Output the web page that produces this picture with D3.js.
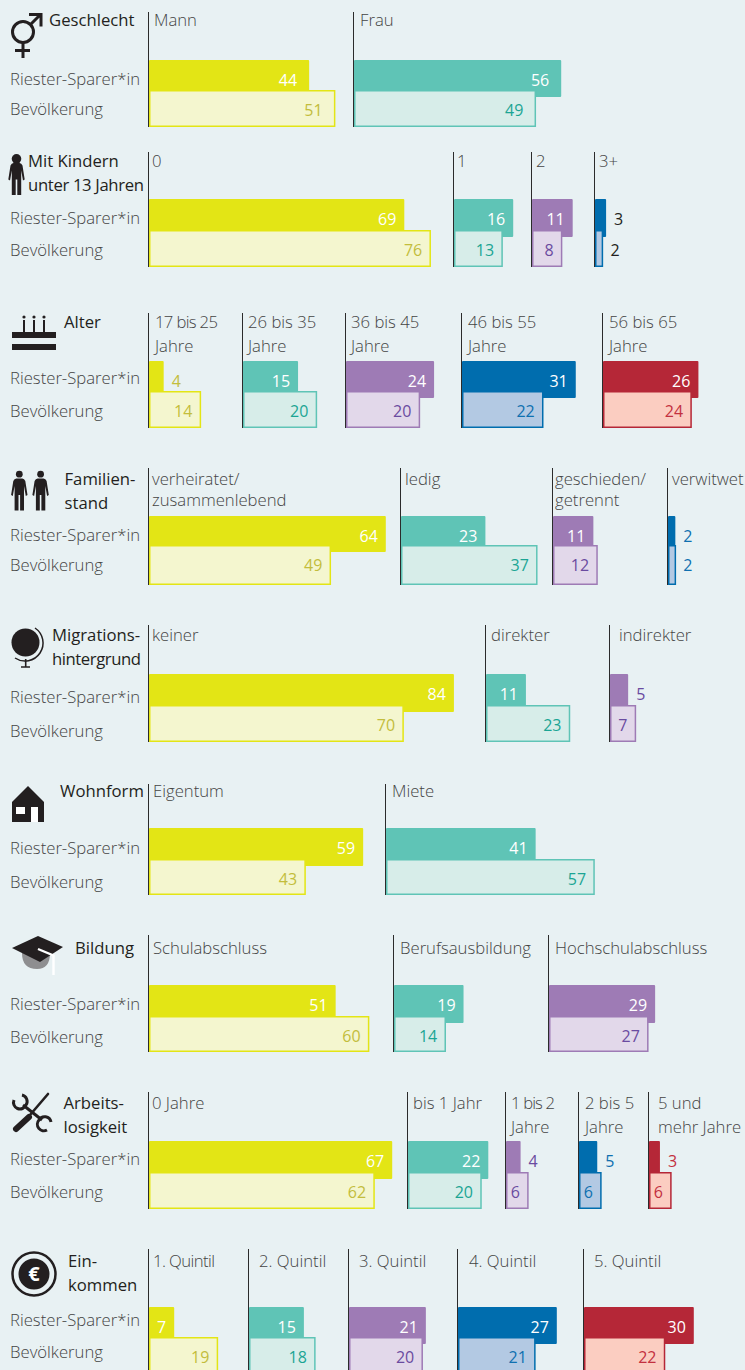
<!DOCTYPE html>
<html>
<head>
<meta charset="utf-8">
<script src="https://d3js.org/d3.v7.min.js"></script>
<style>
html,body{margin:0;padding:0;background:#e8f1f3;}
svg{display:block;}
text{font-family:"Open Sans",sans-serif;}
</style>
</head>
<body>
<svg id="chart"></svg>
<script>
// chart values, percent
var rowNames=['Riester-Sparer*in','Bevölkerung'];

var geschlechtCats=[['Mann'],['Frau']],
    geschlechtSparer=[44,56],
    geschlechtBev=[51,49];
var kinderCats=[['0'],['1'],['2'],['3+']],
    kinderSparer=[69,16,11,3],
    kinderBev=[76,13,8,2];
var alterCats=[['17 bis 25','Jahre'],['26 bis 35','Jahre'],['36 bis 45','Jahre'],['46 bis 55','Jahre'],['56 bis 65','Jahre']],
    alterSparer=[4,15,24,31,26],
    alterBev=[14,20,20,22,24];
var familieCats=[['verheiratet/','zusammenlebend'],['ledig'],['geschieden/','getrennt'],['verwitwet']],
    familieSparer=[64,23,11,2],
    familieBev=[49,37,12,2];
var migrationCats=[['keiner'],['direkter'],['indirekter']],
    migrationSparer=[84,11,5],
    migrationBev=[70,23,7];
var wohnCats=[['Eigentum'],['Miete']],
    wohnSparer=[59,41],
    wohnBev=[43,57];
var bildungCats=[['Schulabschluss'],['Berufsausbildung'],['Hochschulabschluss']],
    bildungSparer=[51,19,29],
    bildungBev=[60,14,27];
var arbeitCats=[['0 Jahre'],['bis 1 Jahr'],['1 bis 2','Jahre'],['2 bis 5','Jahre'],['5 und','mehr Jahre']],
    arbeitSparer=[67,22,4,5,3],
    arbeitBev=[62,20,6,6,6];
var einkommenCats=[['1. Quintil'],['2. Quintil'],['3. Quintil'],['4. Quintil'],['5. Quintil']],
    einkommenSparer=[7,15,21,27,30],
    einkommenBev=[19,18,20,21,22];

// layout of the nine blocks
var panels=[
 {title:['Geschlecht'],tx:49,ty:26,cats:geschlechtCats,a:geschlechtSparer,b:geschlechtBev,starts:[149,354],lx:[5,6],w:[364,370],top:12,bar:60,split:90,bottom:127,ra:85,rb:115,pad:12},
 {title:['Mit Kindern','unter 13 Jahren'],tx:28,ty:167,cats:kinderCats,a:kinderSparer,b:kinderBev,starts:[149,454,532,595],lx:[3,3,4,4],w:[370,370,370,370],top:152,bar:199,split:230,bottom:267,ra:224,rb:256,dark:true},
 {title:['Alter'],tx:64,ty:328,cats:alterCats,a:alterSparer,b:alterBev,starts:[149,243,346,462,603],lx:[6,5,5,6,6],w:[367,367,367,367,367],top:313,bar:361,split:391,bottom:428,ra:384,rb:417},
 {title:['Familien-','stand'],tx:64.5,ty:485,cats:familieCats,a:familieSparer,b:familieBev,starts:[149,401,553,668],lx:[3,4,2,4],w:[370,367,367,367],top:468,bar:516,split:545,bottom:585,ra:541,rb:571,lh:21},
 {title:['Migrations-','hintergrund'],tx:52,ty:641,cats:migrationCats,a:migrationSparer,b:migrationBev,starts:[149,486,610],lx:[3,5,9],w:[363,363,363],top:625,bar:674,split:705,bottom:742,ra:703,rb:737},
 {title:['Wohnform'],tx:60,ty:797,cats:wohnCats,a:wohnSparer,b:wohnBev,starts:[149,386],lx:[4,6],w:[363,365],top:784,bar:828,split:859,bottom:895,ra:854,rb:888},
 {title:['Bildung'],tx:75,ty:954,cats:bildungCats,a:bildungSparer,b:bildungBev,starts:[149,394,549],lx:[4,6,6],w:[366,366,366],top:935,bar:985,split:1016,bottom:1052,ra:1010,rb:1043},
 {title:['Arbeits-','losigkeit'],tx:63.5,ty:1109,cats:arbeitCats,a:arbeitSparer,b:arbeitBev,starts:[149,408,506,579,649],lx:[3,5,5,6,9],w:[363,365,365,365,365],top:1092,bar:1141,split:1172,bottom:1209,ra:1165,rb:1198},
 {title:['Ein-','kommen'],tx:68,ty:1267,cats:einkommenCats,a:einkommenSparer,b:einkommenBev,starts:[149,249,349,458,584],lx:[4,10,10,11,10],w:[360,366,366,366,366],top:1249,bar:1307,split:1337,bottom:1375,ra:1326,rb:1358}
];

// lines the reference sets tighter than Open Sans does
var fit={'unter 13 Jahren':116,'hintergrund':89,'1. Quintil':62,'1 bis 2':44,'17 bis 25':63};

var colors=[
 {dark:'#e3e515',pale:'#f4f6cf',text:'#c3bd3c'},
 {dark:'#5fc4b6',pale:'#d7ede9',text:'#1ba594'},
 {dark:'#9e7bb5',pale:'#e2d8ea',text:'#6a4ba0'},
 {dark:'#006dae',pale:'#b3c9e3',text:'#0f70b0'},
 {dark:'#b52737',pale:'#fbcdc1',text:'#c3303f'}
];

var width=745,height=1370,ink='#231f20',grey='#444',fs=16.7;
var svg=d3.select('#chart').attr('width',width).attr('height',height);

function fitted(sel,t){
  if(fit[t]) sel.attr('textLength',fit[t]).attr('lengthAdjust','spacing');
  return sel.text(t);
}

panels.forEach(function(p){
  var g=svg.append('g').attr('class','panel');
  p.title.forEach(function(t,i){
    fitted(g.append('text').attr('x',p.tx).attr('y',p.ty+i*24).attr('font-size',fs).attr('fill',ink),t);
  });
  g.selectAll('.row').data(rowNames).enter().append('text')
   .attr('x',10).attr('y',function(d,i){return i?p.rb:p.ra;})
   .attr('font-size',fs).attr('font-weight',300).attr('fill',grey).text(function(d){return d;});

  var grp=g.selectAll('.grp').data(p.cats).enter().append('g').attr('class','grp')
     .attr('transform',function(d,i){return 'translate('+p.starts[i]+',0)';});

  grp.append('line').attr('x1',-0.5).attr('x2',-0.5).attr('y1',p.top).attr('y2',Math.min(p.bottom,height))
     .attr('stroke','#2b2b2b').attr('stroke-width',1);

  grp.each(function(lines,i){
    var x=d3.scaleLinear().domain([0,100]).range([0,p.w[i]]);
    var c=colors[i],s=d3.select(this),va=p.a[i],vb=p.b[i],pad=p.pad||8;
    lines.forEach(function(t,k){
      fitted(s.append('text').attr('x',p.lx[i]).attr('y',p.ty+k*(p.lh||24))
       .attr('font-size',fs).attr('font-weight',300).attr('fill',grey),t);
    });
    s.append('rect').attr('x',0).attr('y',p.bar).attr('width',x(va)).attr('height',p.split-p.bar+7).attr('rx',1).attr('fill',c.dark);
    s.append('rect').attr('x',0.75).attr('y',p.split+0.75).attr('width',x(vb)-0.75).attr('height',p.bottom-p.split-1.5)
     .attr('fill',c.pale).attr('stroke',c.dark).attr('stroke-width',1.5);
    var outText=p.dark?ink:c.text;
    label(s,va,x(va),p.bar+26,'#fff',outText,pad);
    label(s,vb,x(vb),p.split+26,c.text,outText,pad);
  });
});

// small values sit right of the bar, the rest inside its end
function label(s,v,end,y,inside,outside,pad){
  var out=v<=3||(v<=5&&inside==='#fff');
  s.append('text').attr('x',out?end+8:end-pad).attr('y',y)
   .attr('text-anchor',out?'start':'end').attr('font-size',16)
   .attr('fill',out?outside:inside).text(v);
}

// icons
var ic=svg.append('g').attr('class','icons');
// gender
var gi=ic.append('g').attr('fill','none').attr('stroke',ink).attr('stroke-width',3);
gi.append('circle').attr('cx',23).attr('cy',32).attr('r',10.5);
gi.append('path').attr('d','M30.5,24.5L40,15M29,14.5H41V26.5M23,43V58M15,50.5H30');
// person
function person(px,py,k,hr,hy,dy){
  var f=ic.append('g').attr('transform','translate('+px+','+py+') scale('+k+')').attr('fill',ink);
  f.append('circle').attr('cx',0).attr('cy',hy).attr('r',hr);
  f.append('path').attr('transform','translate(0,'+dy+')')
   .attr('d','M-3,7.5H3Q5,7.5 6,10L8.2,24L6.5,25L4.7,15V39.5H0.8V24H-0.8V39.5H-4.7V15L-6.5,25L-8.2,24L-6,10Q-5,7.5 -3,7.5Z');
}
person(16.5,154,1,4.8,4.8,1.5);
person(19.3,471,1,3.4,3.2,0);
person(40.6,471,1,3.4,3.2,0);
// cake
ic.append('rect').attr('x',12).attr('y',332).attr('width',44).attr('height',6).attr('fill',ink);
ic.append('rect').attr('x',12).attr('y',344).attr('width',44).attr('height',6).attr('fill',ink);
[24,34,44].forEach(function(cx){
  ic.append('rect').attr('x',cx-1).attr('y',320).attr('width',2).attr('height',12).attr('fill',ink);
  ic.append('circle').attr('cx',cx).attr('cy',317).attr('r',1.6).attr('fill',ink);
});
// globe
ic.append('circle').attr('cx',25.5).attr('cy',642.5).attr('r',14).attr('fill',ink);
ic.append('path').attr('d','M35,628A18,18 0 0 1 15,658').attr('fill','none').attr('stroke',ink).attr('stroke-width',1.5);
ic.append('path').attr('d','M25.7,659V667M21,667H30').attr('fill','none').attr('stroke',ink).attr('stroke-width',1.6);
// house
ic.append('path').attr('d','M12,802L28,786L44,802V822H12Z').attr('fill',ink);
ic.append('rect').attr('x',16).attr('y',807).attr('width',9).attr('height',7).attr('fill','#fff');
ic.append('rect').attr('x',31).attr('y',807).attr('width',7).attr('height',15).attr('fill','#fff');
// cap
ic.append('path').attr('d','M22,953Q22,969 37,969Q50,969 50,953Z').attr('fill','#8e8e90');
ic.append('path').attr('d','M12,948L38,936L63,947L40,962Z').attr('fill',ink);
ic.append('path').attr('d','M38,949L53.5,955.5V975').attr('fill','none').attr('stroke','#fff').attr('stroke-width',2.4);
// tools
var tl=ic.append('g').attr('fill','none').attr('stroke',ink);
tl.append('path').attr('d','M23,1105L42,1120').attr('stroke-width',3);
tl.append('path').attr('d','M14,1100A6.5,6.5 0 0 0 26,1105A6.5,6.5 0 0 0 22,1095').attr('stroke-width',3);
tl.append('path').attr('d','M51,1122A6.5,6.5 0 0 0 39,1120A6.5,6.5 0 0 0 47,1130').attr('stroke-width',3);
tl.append('path').attr('d','M48,1094L30,1115').attr('stroke-width',2.6).attr('stroke-linecap','round');
tl.append('path').attr('d','M29,1117L16,1129').attr('stroke-width',6).attr('stroke-linecap','round');
// euro
ic.append('circle').attr('cx',34).attr('cy',1274).attr('r',21.5).attr('fill','none').attr('stroke',ink).attr('stroke-width',2.5);
ic.append('circle').attr('cx',34).attr('cy',1274).attr('r',15.5).attr('fill',ink);
ic.append('text').attr('x',34).attr('y',1281).attr('text-anchor','middle').attr('font-size',20).attr('font-weight',700).attr('fill','#fff').text('€');
</script>
</body>
</html>
